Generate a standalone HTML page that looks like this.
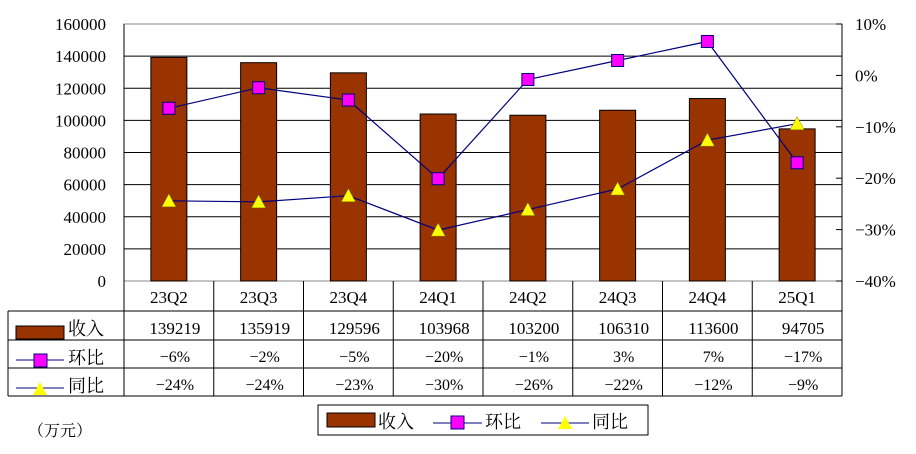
<!DOCTYPE html>
<html><head><meta charset="utf-8"><style>
html,body{margin:0;padding:0;background:#fff;}
svg{display:block;font-family:"Liberation Serif","Noto Serif CJK SC",serif;}
</style></head><body>
<svg id="c" width="916" height="454" viewBox="0 0 916 454"></svg>
<script>
const categories=["23Q2","23Q3","23Q4","24Q1","24Q2","24Q3","24Q4","25Q1"];
const revenue=[139219,135919,129596,103968,103200,106310,113600,94705];
const qoq=[-6.4,-2.4,-4.8,-20.1,-0.8,2.9,6.6,-17.0];
const yoy=[-24.4,-24.6,-23.4,-30.1,-26.1,-22.1,-12.6,-9.4];
const qoqLabels=["-6%","-2%","-5%","-20%","-1%","3%","7%","-17%"];
const yoyLabels=["-24%","-24%","-23%","-30%","-26%","-22%","-12%","-9%"];
const leftTicks=[0,20000,40000,60000,80000,100000,120000,140000,160000];
const rightTicks=[-40,-30,-20,-10,0,10];

const svg=document.getElementById('c');
const NS="http://www.w3.org/2000/svg";
function el(tag,attrs,parent,text){const e=document.createElementNS(NS,tag);for(const k in attrs)e.setAttribute(k,attrs[k]);if(text!==undefined)e.textContent=text;(parent||svg).appendChild(e);return e;}
const L=124,R=842,T=24,B=281,cw=(R-L)/categories.length;
const yL=v=>B-(v/160000)*(B-T);
const yR=v=>B-((v+40)/50)*(B-T);
const xC=i=>L+cw*(i+0.5);

el('rect',{x:L,y:T,width:R-L,height:B-T,fill:'#fff',stroke:'#888','stroke-width':1,});
leftTicks.forEach(v=>{
  if(v>0&&v<160000){const g=el('line',{x1:L,x2:R,y1:yL(v),y2:yL(v),stroke:'#000','stroke-width':1});}
  const t=el('text',{x:106,y:yL(v)+6,'text-anchor':'end','font-size':17,fill:'#000'},svg,String(v));
  
});
el('line',{x1:R,x2:R,y1:T,y2:B,stroke:'#000'});
el('line',{x1:L,x2:L,y1:T,y2:B,stroke:'#000'});
rightTicks.forEach(v=>{
  const tk=el('line',{x1:R-6,x2:R,y1:yR(v),y2:yR(v),stroke:'#000'});
  
  const t=el('text',{x:855,y:yR(v)+6,'font-size':17,fill:'#000'},svg,(v<0?'−':'')+Math.abs(v)+'%');
  
});
revenue.forEach((v,i)=>{
  const b=el('rect',{x:xC(i)-18,y:yL(v),width:36,height:B-yL(v),fill:'#993300',stroke:'#000','stroke-width':1});
  
});
function line(data,name){
  const p=el('polyline',{points:data.map((v,i)=>xC(i)+','+yR(v)).join(' '),fill:'none',stroke:'#000080','stroke-width':1.2});
  
}
line(qoq,'qoq-line');line(yoy,'yoy-line');
qoq.forEach((v,i)=>{const m=el('rect',{x:xC(i)-6,y:yR(v)-6,width:12,height:12,fill:'#ff00ff',stroke:'#000080'});});
yoy.forEach((v,i)=>{const x=xC(i),y=yR(v);const m=el('polygon',{points:`${x},${y-7} ${x+7},${y+6} ${x-7},${y+6}`,fill:'#ffff00',stroke:'#808000','stroke-width':0.5});});

// table
const rows=[311,340,368,396];
el('line',{x1:L,x2:L,y1:B,y2:396,stroke:'#000'});
el('line',{x1:8,x2:R,y1:311,y2:311,stroke:'#000'});
el('line',{x1:8,x2:R,y1:340,y2:340,stroke:'#000'});
el('line',{x1:8,x2:R,y1:368,y2:368,stroke:'#000'});
el('line',{x1:8,x2:R,y1:396,y2:396,stroke:'#000'});
el('line',{x1:8,x2:8,y1:311,y2:396,stroke:'#000'});
for(let i=1;i<=categories.length;i++)el('line',{x1:L+cw*i,x2:L+cw*i,y1:B,y2:396,stroke:'#000'});
categories.forEach((c,i)=>{
  const a=el('text',{x:xC(i),y:303,'text-anchor':'middle','font-size':17},svg,c);
  const b=el('text',{x:xC(i)+6,y:334,'text-anchor':'middle','font-size':17},svg,String(revenue[i]));
  const d=el('text',{x:xC(i)+6,y:362,'text-anchor':'middle','font-size':16},svg,qoqLabels[i].replace('-','−'));
  const e=el('text',{x:xC(i)+6,y:390,'text-anchor':'middle','font-size':16},svg,yoyLabels[i].replace('-','−'));
});
// table row keys
el('rect',{x:16,y:326,width:48,height:13,fill:'#993300',stroke:'#000'});
el('text',{x:68,y:335,'font-size':18},svg,'收入');
el('line',{x1:16,x2:64,y1:360,y2:360,stroke:'#000080'});
el('rect',{x:34,y:354,width:13,height:13,fill:'#ff00ff',stroke:'#000080'});
el('text',{x:68,y:364,'font-size':18},svg,'环比');
el('line',{x1:16,x2:64,y1:388,y2:388,stroke:'#000080'});
el('polygon',{points:'40,382 47,395 33,395',fill:'#ffff00'});
el('text',{x:68,y:392,'font-size':18},svg,'同比');
</script>
<svg width="916" height="454" style="position:absolute;left:0;top:0;font-family:'Liberation Serif','Noto Serif CJK SC',serif">
  <g>
    <rect x="318" y="405" width="330" height="30" fill="#fff" stroke="#000"/>
    <rect x="327" y="413" width="48" height="14" fill="#993300" stroke="#000"/>
    <text x="378" y="428" font-size="18">收入</text>
    <line x1="433" y1="423" x2="482" y2="423" stroke="#000080"/>
    <rect x="451" y="416" width="13" height="13" fill="#ff00ff" stroke="#000080"/>
    <text x="485" y="428" font-size="18">环比</text>
    <line x1="541" y1="423" x2="589" y2="423" stroke="#000080"/>
    <polygon points="565,416 572,429 558,429" fill="#ffff00"/>
    <text x="592" y="428" font-size="18">同比</text>
  </g>
  <text x="28" y="436" font-size="16">（万元）</text>
</svg>
</body></html>
